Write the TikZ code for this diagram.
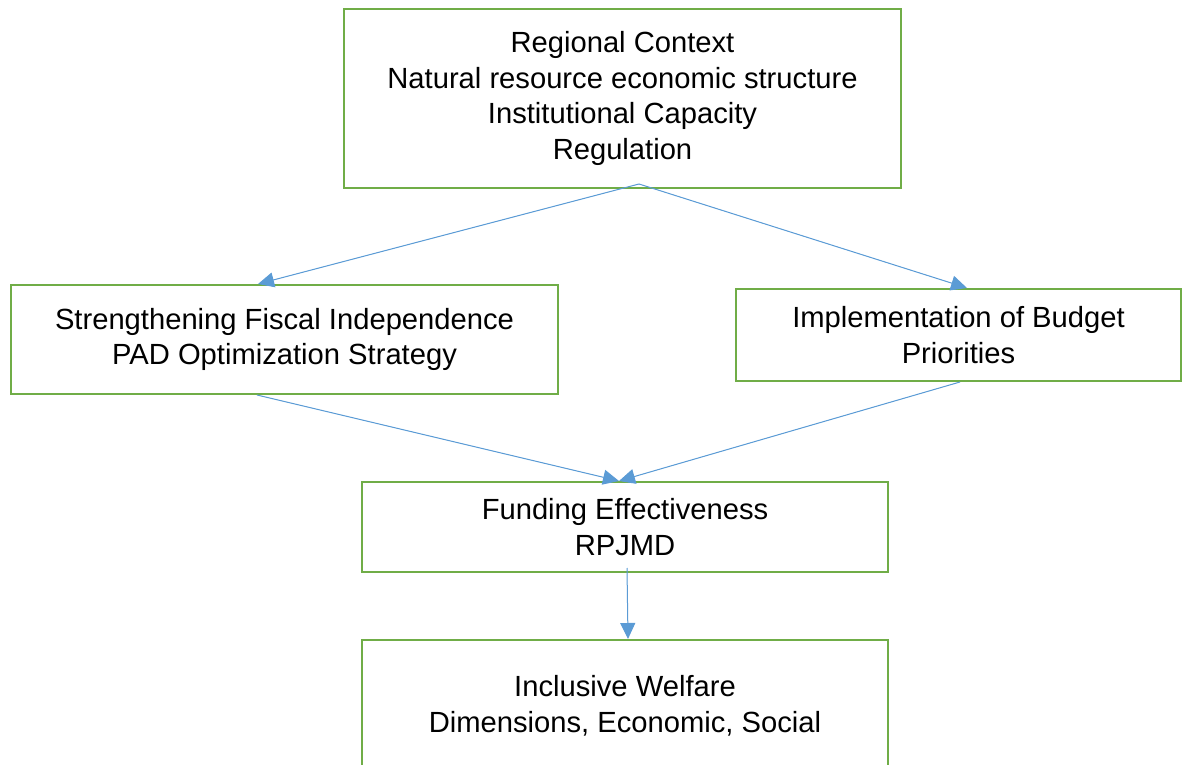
\documentclass[tikz,border=0pt]{standalone}
\usepackage{fontspec}
\setmainfont{Liberation Sans}
\usetikzlibrary{arrows.meta,calc}

\definecolor{boxgreen}{HTML}{70AD47}
\definecolor{linkblue}{HTML}{5B9BD5}

\begin{document}
\begin{tikzpicture}[
  x=0.2mm, y=-0.2mm,
  font=\fontsize{16.6}{20.3}\selectfont,
  block/.style={draw=boxgreen, line width=0.4mm, align=center, inner sep=2pt},
  arr/.style={-{Triangle[length=3.2mm, width=3mm]}, draw=linkblue, fill=linkblue, line width=0.2mm}
]
\clip (0,0) rectangle (1185,765);

\node[block, minimum width=111.4mm, minimum height=35.8mm] (ctx) at (622.5,98.5)
  {Regional Context\\ Natural resource economic structure\\ Institutional Capacity\\ Regulation};
\node[block, minimum width=109.4mm, minimum height=21.8mm] (fisc) at (284.5,339.5)
  {Strengthening Fiscal Independence\\ PAD Optimization Strategy};
\node[block, minimum width=89mm, minimum height=18.4mm] (budg) at (958.5,335)
  {Implementation of Budget\\ Priorities};
\node[block, minimum width=105.2mm, minimum height=18mm] (fund) at (625,527)
  {Funding Effectiveness\\ RPJMD};
\node[block, minimum width=105.2mm, minimum height=26.2mm] (welf) at (625,705.5)
  {Inclusive Welfare\\ Dimensions, Economic, Social};

\coordinate (ctx-out)  at ($(ctx.south)+(16.5,-5)$);
\coordinate (fisc-in)  at ($(fisc.north)+(-26.5,0)$);
\coordinate (budg-in)  at ($(budg.north)+(8.5,0)$);
\coordinate (fisc-out) at ($(fisc.south)+(-27.5,0)$);
\coordinate (budg-out) at ($(budg.south)+(1.5,0)$);
\coordinate (fund-in)  at ($(fund.north)+(-6,0)$);
\coordinate (fund-out) at ($(fund.south)+(2,-5)$);
\coordinate (welf-in)  at ($(welf.north)+(3,0)$);

\draw[arr] (ctx-out)  -- (fisc-in);
\draw[arr] (ctx-out)  -- (budg-in);
\draw[arr] (fisc-out) -- (fund-in);
\draw[arr] (budg-out) -- (fund-in);
\draw[arr] (fund-out) -- (welf-in);
\end{tikzpicture}
\end{document}
